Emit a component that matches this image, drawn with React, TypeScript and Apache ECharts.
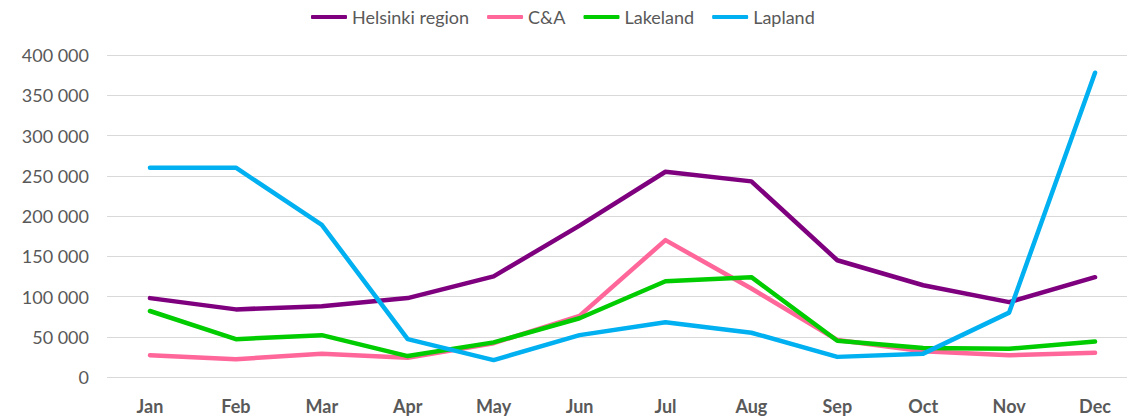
import React, { useEffect, useRef } from "react";
import * as echarts from "echarts";

const months = ["Jan", "Feb", "Mar", "Apr", "May", "Jun", "Jul", "Aug", "Sep", "Oct", "Nov", "Dec"];
const helsinki = [98000, 84000, 88000, 98000, 125000, 188000, 255000, 243000, 145000, 114000, 93000, 124000];
const ca = [27000, 22000, 29000, 24000, 42000, 76000, 170000, 110000, 46000, 32000, 27000, 30000];
const lakeland = [82000, 47000, 52000, 26000, 43000, 73000, 119000, 124000, 45000, 36000, 35000, 44000];
const lapland = [260000, 260000, 189000, 47000, 21000, 52000, 68000, 55000, 25000, 29000, 80000, 378000];

const seriesNames = ["Helsinki region", "C&A", "Lakeland", "Lapland"];
const seriesData = [helsinki, ca, lakeland, lapland];
const colors = ["#7F007F", "#FF6699", "#00CC00", "#00B0F0"];

const fmt = (v: number) => {
  const s = String(Math.round(v));
  return s.replace(/\B(?=(\d{3})+(?!\d))/g, " ");
};

export default function App() {
  const ref = useRef<HTMLDivElement>(null);
  useEffect(() => {
    if (!ref.current) return;
    const chart = echarts.init(ref.current, null, { renderer: "svg" });
    chart.setOption({
      animation: false,
      textStyle: { fontFamily: "Lato, 'Open Sans', sans-serif" },
      legend: {
        top: 3,
        left: 306,
        itemWidth: 36,
        itemHeight: 4,
        itemGap: 18,
        itemTextGap: 3,
        icon: "roundRect",
        textStyle: { fontSize: 18, color: "#595959", fontFamily: "Lato, sans-serif" },
        data: seriesNames,
      },
      grid: { left: 107, right: 2, top: 55, bottom: 40, containLabel: false },
      xAxis: {
        type: "category",
        data: months,
        boundaryGap: true,
        axisLine: { show: false },
        axisTick: { show: false },
        axisLabel: { fontSize: 18, fontWeight: "bold", color: "#595959", margin: 20 },
      },
      yAxis: {
        type: "value",
        min: 0,
        max: 400000,
        interval: 50000,
        axisLine: { show: false },
        axisTick: { show: false },
        splitLine: { lineStyle: { color: "#D9D9D9", width: 1 } },
        axisLabel: { fontSize: 18, color: "#595959", margin: 18, formatter: (v: number) => fmt(v) },
      },
      series: seriesNames.map((name, i) => ({
        name,
        type: "line",
        data: seriesData[i],
        symbol: "none",
        color: colors[i],
        lineStyle: { width: 4.5, color: colors[i], cap: "round", join: "round" },
      })),
    });
    return () => chart.dispose();
  }, []);
  return (
    <div style={{ position: "absolute", left: 0, top: 0, width: 1127, height: 417, overflow: "hidden", background: "#fff" }}>
      <div ref={ref} style={{ width: 1140, height: 417 }} />
    </div>
  );
}
